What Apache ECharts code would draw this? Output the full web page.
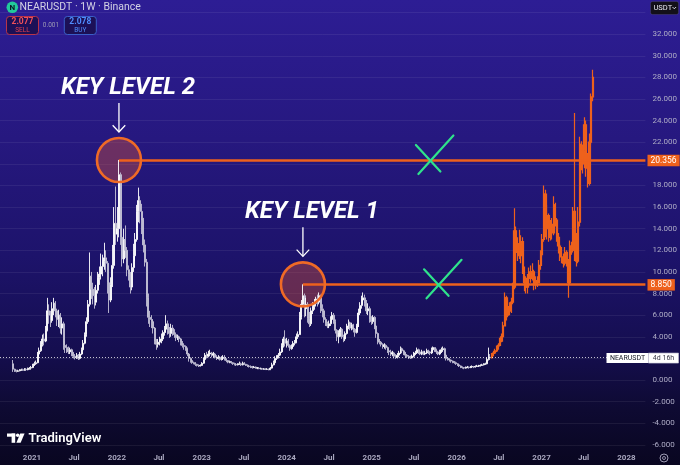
<!DOCTYPE html>
<html>
<head>
<meta charset="utf-8">
<script src="https://cdn.jsdelivr.net/npm/echarts@6.0.0/dist/echarts.min.js"></script>
<style>
html,body{margin:0;padding:0;background:#0a0720;overflow:hidden}
#chart{width:680px;height:465px}
</style>
</head>
<body>
<div id="chart"></div>
<script>
// ================= DATA =================
const firstWeek = '2020-10-12';
const firstOpen = 1.5;

const histClose = [
1.0,0.85,0.8,0.85,0.9,0.95,0.9,1.0,0.95,1.05,1.1,
1.15,1.35,1.5,1.6,2.4,2.7,3.3,3.8,3.6,4.6,
6.4,6.0,5.5,6.6,7.1,6.4,5.6,6.0,4.8,5.2,
3.2,3.0,2.9,2.6,2.8,2.5,2.2,2.1,2.3,2.0,
2.4,2.8,3.4,4.2,5.4,7.0,9.6,8.4,7.8,7.2,
8.3,9.5,9.8,10.5,11.0,11.3,10.8,9.0,7.4,8.8,
10.6,14.5,13.5,14.0,19.0,13.2,11.2,13.0,12.0,10.2,
9.8,8.6,10.4,11.5,13.0,15.6,16.6,15.6,14.8,12.5,
10.9,7.6,5.8,5.6,5.4,4.8,3.6,3.3,3.5,3.7,
3.8,4.4,4.7,5.2,4.6,4.3,4.8,4.5,4.2,3.9,
4.0,3.8,3.5,3.2,3.1,2.9,2.4,2.0,1.8,1.6,
1.55,1.45,1.35,1.3,1.35,1.55,1.9,2.3,2.2,2.4,
2.5,2.3,2.4,2.1,2.0,2.1,1.9,2.0,2.1,1.95,
1.8,1.65,1.7,1.6,1.5,1.45,1.4,1.45,1.5,1.4,
1.55,1.45,1.35,1.3,1.25,1.2,1.15,1.2,1.1,1.1,
1.05,1.05,1.0,1.02,0.98,1.0,0.95,1.1,1.4,1.6,
2.0,2.1,2.3,2.6,3.2,3.8,3.4,3.6,3.2,2.9,
3.1,3.4,3.5,4.0,4.2,5.8,7.0,7.8,6.6,7.0,
5.7,5.2,6.4,6.8,7.1,7.5,7.2,7.8,6.6,6.4,
5.6,5.2,5.0,5.2,5.6,6.0,5.4,4.6,4.0,4.4,
4.7,4.0,3.8,4.3,5.0,5.3,4.8,5.1,4.7,4.4,
5.0,6.2,6.9,7.4,7.6,7.1,6.4,6.6,5.6,5.4,
5.8,5.0,4.3,3.6,3.5,3.3,3.1,3.2,3.0,2.7,
2.6,2.4,2.5,2.2,2.1,2.3,2.5,2.9,2.7,2.5,
2.3,2.2,2.1,2.05,2.2,2.4,2.5,2.8,2.6,2.4,
2.6,2.4,2.5,2.7,2.6,2.5,2.8,3.0,2.8,2.6,
2.4,2.6,2.8,2.9,2.3,2.0,1.95,1.85,1.75,1.65,
1.6,1.5,1.4,1.3,1.2,1.15,1.1,1.15,1.2,1.15,
1.2,1.25,1.2,1.25,1.3,1.3,1.35,1.4,1.45,1.5,
1.9,2.1,2.077
];
const histHigh = [
1.85,1.05,0.95,0.95,1.0,1.05,1.05,1.1,1.1,1.15,1.2,
1.3,1.5,1.7,1.8,2.6,3.0,3.6,4.2,4.3,5.0,
7.6,7.0,6.4,7.2,7.6,7.3,6.6,6.5,6.2,5.8,
5.4,3.6,3.3,3.1,3.0,2.9,2.6,2.4,2.5,2.4,
2.6,3.0,3.7,4.4,5.8,7.4,11.8,10.0,9.0,8.6,
8.8,10.0,10.5,11.7,11.6,12.7,12.0,11.0,9.2,9.5,
12.5,16.0,17.9,16.0,20.36,19.2,14.2,14.0,14.3,12.3,
10.6,10.0,10.8,12.6,13.6,16.2,17.8,17.0,16.3,15.0,
13.0,11.2,8.0,6.4,6.0,5.6,4.9,3.8,3.8,4.0,
4.3,4.6,5.0,6.0,5.5,4.9,5.2,5.1,4.7,4.4,
4.2,4.1,3.9,3.6,3.4,3.2,3.0,2.5,2.1,1.9,
1.7,1.65,1.5,1.45,1.45,1.65,2.1,2.5,2.6,2.7,
2.8,2.6,2.6,2.5,2.3,2.3,2.2,2.2,2.3,2.3,
2.0,1.85,1.8,1.75,1.65,1.6,1.55,1.55,1.7,1.6,
1.7,1.65,1.5,1.45,1.4,1.35,1.3,1.3,1.25,1.2,
1.2,1.15,1.12,1.1,1.08,1.1,1.05,1.2,1.6,1.8,
2.2,2.3,2.5,2.9,3.4,4.0,4.6,3.9,3.8,3.3,
3.3,3.6,3.7,4.3,4.5,6.3,7.4,8.85,8.0,7.6,
7.2,6.3,6.7,7.2,7.5,7.7,7.9,8.1,7.9,7.0,
6.6,5.8,5.4,5.5,5.9,6.3,6.2,5.6,4.7,4.6,
4.9,4.8,4.2,4.5,5.2,5.6,5.4,5.3,5.2,4.8,
5.2,6.6,7.2,7.8,8.1,7.9,7.4,7.1,6.8,5.9,
6.0,5.9,5.1,4.4,3.8,3.6,3.4,3.4,3.3,3.1,
2.9,2.8,2.7,2.6,2.4,2.5,2.7,3.1,3.0,2.8,
2.6,2.4,2.3,2.25,2.35,2.6,2.7,3.0,2.9,2.7,
2.8,2.7,2.7,2.9,2.8,2.7,3.0,3.1,3.0,2.9,
2.7,2.8,3.0,3.1,3.0,2.4,2.1,2.0,1.9,1.8,
1.75,1.7,1.55,1.45,1.35,1.25,1.2,1.25,1.3,1.25,
1.3,1.35,1.3,1.35,1.4,1.4,1.45,1.5,1.55,1.6,
2.1,3.0,2.4
];
const histLow = [
0.75,0.75,0.7,0.75,0.8,0.85,0.85,0.85,0.85,0.9,0.95,
0.95,1.1,1.3,1.4,1.55,2.2,2.6,3.1,3.2,3.5,
4.5,5.2,4.9,5.3,6.0,5.8,5.0,4.9,4.3,4.2,
2.8,2.5,2.5,2.4,2.4,2.2,2.0,1.9,1.95,1.85,
1.9,2.3,2.7,3.3,4.0,5.2,6.8,7.5,7.0,6.6,
6.9,8.0,8.8,9.3,9.6,10.2,10.0,8.0,6.2,7.2,
8.6,10.3,12.5,12.8,13.2,12.5,10.5,10.8,11.3,9.6,
9.2,8.0,8.3,10.0,11.0,12.8,14.6,14.5,13.5,11.8,
10.5,6.8,5.2,4.9,4.8,4.3,3.3,2.8,3.0,3.2,
3.4,3.6,4.1,4.4,4.2,3.9,4.0,4.1,3.9,3.6,
3.7,3.5,3.2,3.0,2.8,2.7,2.2,1.7,1.6,1.5,
1.45,1.3,1.25,1.2,1.25,1.3,1.5,1.85,2.0,2.1,
2.2,2.1,2.1,2.0,1.85,1.9,1.8,1.8,1.85,1.8,
1.65,1.55,1.55,1.5,1.4,1.35,1.3,1.35,1.4,1.3,
1.35,1.4,1.3,1.2,1.15,1.1,1.05,1.1,1.05,1.0,
1.0,0.98,0.95,0.95,0.92,0.92,0.9,0.92,1.05,1.35,
1.55,1.85,2.0,2.2,2.5,3.0,3.1,3.0,3.0,2.7,
2.8,3.0,3.2,3.4,3.8,4.2,5.6,6.8,5.8,5.9,
5.3,4.9,5.0,6.1,6.5,6.8,6.8,7.0,6.2,5.8,
5.3,5.0,4.8,4.8,5.0,5.4,5.2,4.3,3.6,3.4,
4.0,3.8,3.5,3.6,4.2,4.7,4.6,4.6,4.4,4.0,
4.3,4.9,6.0,6.6,7.0,6.8,6.1,6.0,5.3,5.1,
5.2,4.7,3.9,3.3,3.3,3.1,2.9,2.9,2.8,2.5,
2.3,2.2,2.2,2.0,1.95,2.0,2.1,2.4,2.5,2.3,
2.1,2.05,1.95,1.95,2.0,2.1,2.3,2.4,2.4,2.3,
2.3,2.3,2.3,2.4,2.4,2.3,2.4,2.7,2.6,2.4,
2.3,2.3,2.5,2.6,2.0,1.8,1.8,1.7,1.6,1.55,
1.5,1.4,1.3,1.2,1.1,1.05,1.0,1.05,1.1,1.05,
1.1,1.15,1.1,1.15,1.2,1.2,1.25,1.3,1.35,1.4,
1.45,1.8,1.9
];

const projClose = [
2.3,2.5,2.7,2.9,3.2,3.6,4.0,5.0,7.6,6.0,
6.8,6.4,7.2,8.6,13.8,11.8,12.6,11.5,12.8,10.2,
9.0,8.6,9.4,10.0,9.4,10.0,8.8,9.2,9.0,10.6,
11.6,13.0,17.2,14.0,15.2,13.2,14.4,13.6,16.2,14.8,
13.2,12.4,11.4,11.2,10.8,11.8,11.0,9.0,12.4,12.0,
15.6,12.0,11.0,14.6,21.8,20.0,21.2,23.6,19.6,18.2,
22.0,26.2,28.0
];
const projHigh = [
2.5,2.7,2.9,3.2,3.4,3.9,4.3,5.4,8.1,7.8,
7.4,7.2,7.6,9.0,15.9,14.2,13.2,13.9,13.4,13.2,
10.5,9.6,9.8,10.4,10.6,10.8,10.2,9.6,9.6,11.1,
12.0,13.5,18.0,17.6,16.2,15.4,14.8,15.0,17.0,16.4,
15.0,13.6,12.6,12.3,11.7,12.3,12.0,11.2,12.9,12.8,
16.0,24.7,13.6,16.0,22.5,22.1,21.8,24.3,24.0,21.0,
22.8,26.5,28.7
];
const projLow = [
2.0,2.2,2.4,2.6,2.8,3.1,3.5,4.0,5.0,5.5,
5.8,6.0,6.2,7.0,8.4,11.0,11.0,11.2,10.8,9.8,
8.2,8.0,8.0,8.6,9.0,9.2,8.3,8.4,8.6,9.0,
10.2,11.4,12.8,13.2,13.0,12.8,12.9,13.0,13.4,14.2,
12.8,11.7,11.0,10.8,10.4,10.6,10.5,7.6,8.8,11.6,
11.8,11.0,10.5,10.8,14.2,19.4,19.1,19.6,18.8,17.8,
18.0,21.8,25.8
];

const lastPrice = 2.077;
const xLabelDates = ['2021-01-01','2021-07-01','2022-01-01','2022-07-01','2023-01-01','2023-07-01',
  '2024-01-01','2024-07-01','2025-01-01','2025-07-01','2026-01-01','2026-07-01','2027-01-01','2027-07-01','2028-01-01'];
const yMin = -6, yMax = 34, yStep = 2;
const keyLevels = [
  {text:'KEY LEVEL 2', week:65, price:20.356, tag:'20.356'},
  {text:'KEY LEVEL 1', week:178, price:8.850, tag:'8.850'}
];
const crossMarks = [
  {date:'2025-09-08', price:20.356},
  {date:'2025-10-13', price:8.850}
];
const header = {title:'NEARUSDT · 1W · Binance', sell:'2.077', spread:'0.001', buy:'2.078', currency:'USDT'};
const priceTag = {name:'NEARUSDT', countdown:'4d 16h'};

// ================= BUILD =================
const DAY = 86400000;
const toTime = d => Date.parse(d + 'T00:00:00Z');
const t0 = toTime(firstWeek);
const weekTime = i => t0 + i * 7 * DAY;

const histData = [], projData = [];
let prev = firstOpen;
histClose.forEach((c, i) => {
  const o = prev;
  histData.push([weekTime(i), o, c, Math.min(histLow[i], o, c), Math.max(histHigh[i], o, c)]);
  prev = c;
});
projClose.forEach((c, j) => {
  const o = prev;
  const i = histClose.length + j;
  projData.push([weekTime(i), o, c, Math.min(projLow[j], o, c), Math.max(projHigh[j], o, c)]);
  prev = c;
});

// layout of the time scale: 2021 label at x=32, 2028 at x=627, plot 646px wide
const T2021 = toTime('2021-01-01');
const T2028 = toTime('2028-01-01');
const pxPerMs = (627 - 32) / (T2028 - T2021);
const plotW = 646;
const xMin = T2021 - 32 / pxPerMs;
const xMax = T2021 + (plotW - 32) / pxPerMs;
const pxPerUnit = 10.808;
const zeroY = 380;
const gridTop = zeroY - yMax * pxPerUnit;
const gridBottom = 465 - (zeroY - yMin * pxPerUnit);

const ORANGE = '#ee611c';
const FONT = 'Roboto, "Noto Sans", sans-serif';

const chart = echarts.init(document.getElementById('chart'), null, {renderer: 'canvas', width: 680, height: 465});

chart.setOption({
  animation: false,
  backgroundColor: {
    type: 'linear', x: 0, y: 0, x2: 0, y2: 1,
    colorStops: [
      {offset: 0, color: '#2d1d94'},
      {offset: 0.3, color: '#26187f'},
      {offset: 0.55, color: '#1d136b'},
      {offset: 0.75, color: '#150e50'},
      {offset: 0.88, color: '#0e0a32'},
      {offset: 1, color: '#090620'}
    ]
  },
  grid: {left: 0, right: 680 - plotW, top: gridTop, bottom: gridBottom, containLabel: false},
  xAxis: {
    type: 'value', min: xMin, max: xMax, scale: true,
    axisLine: {show: false}, axisTick: {show: false}, splitLine: {show: false},
    axisLabel: {
      customValues: xLabelDates.map(toTime),
      formatter: v => { const d = new Date(v); return d.getUTCMonth() === 0 ? String(d.getUTCFullYear()) : 'Jul'; },
      color: '#a9a7bf', fontSize: 8, fontWeight: 'bold', fontFamily: FONT, margin: 9, hideOverlap: false
    }
  },
  yAxis: {
    type: 'value', position: 'right', min: yMin, max: yMax, interval: yStep,
    axisLine: {show: false}, axisTick: {show: false},
    splitLine: {lineStyle: {color: 'rgba(255,255,255,0.065)', width: 1}},
    axisLabel: {
      formatter: v => v.toFixed(3), color: '#aeacc6', fontSize: 8, fontFamily: FONT, margin: 7,
      showMaxLabel: false
    }
  },
  series: [
    {
      type: 'candlestick', name: 'hist', data: histData,
      encode: {x: 0, y: [1, 2, 3, 4]},
      barWidth: 1.5,
      itemStyle: {color: '#ffffff', color0: '#c4c2d6', borderColor: '#ffffff', borderColor0: '#c4c2d6', borderWidth: 0.9},
      markLine: {
        silent: true, symbol: 'none', animation: false,
        label: {show: false},
        lineStyle: {type: [1, 2], color: 'rgba(255,255,255,0.75)', width: 1},
        data: [{yAxis: lastPrice}]
      }
    },
    {
      type: 'candlestick', name: 'proj', data: projData,
      encode: {x: 0, y: [1, 2, 3, 4]},
      barWidth: 1.7,
      itemStyle: {color: ORANGE, color0: ORANGE, borderColor: ORANGE, borderColor0: ORANGE, borderWidth: 1.2},
      markLine: {
        silent: true, symbol: 'none', animation: false,
        label: {show: false},
        lineStyle: {type: 'solid', color: ORANGE, width: 2.6},
        data: keyLevels.map(k => [{coord: [weekTime(k.week), k.price]}, {coord: [xMax, k.price]}])
      }
    }
  ]
});

// ================= ANNOTATIONS =================
const px = (t, p) => chart.convertToPixel({gridIndex: 0}, [t, p]);
const g = [];

// header
g.push({type: 'circle', shape: {cx: 12.3, cy: 7.3, r: 5.8}, style: {fill: '#22c99b'}, z: 100});
g.push({type: 'text', style: {x: 12.3, y: 7.6, text: 'N', fill: '#0b1a24', font: 'bold 8px ' + FONT, align: 'center', verticalAlign: 'middle'}, z: 101});
g.push({type: 'text', style: {x: 19.5, y: 7.5, text: header.title, fill: '#d3d2e4', font: '10.5px ' + FONT, verticalAlign: 'middle'}, z: 100});
g.push({type: 'rect', shape: {x: 6.5, y: 16.5, width: 32, height: 18, r: 3}, style: {fill: 'rgba(16,8,40,0.55)', stroke: '#b8344a', lineWidth: 1}, z: 100});
g.push({type: 'text', style: {x: 22.5, y: 22.3, text: header.sell, fill: '#f0505a', font: 'bold 8.5px ' + FONT, align: 'center', verticalAlign: 'middle'}, z: 101});
g.push({type: 'text', style: {x: 22.5, y: 30, text: 'SELL', fill: '#e0404e', font: '6.5px ' + FONT, align: 'center', verticalAlign: 'middle'}, z: 101});
g.push({type: 'text', style: {x: 51, y: 25.5, text: header.spread, fill: '#9c9ab4', font: '6.5px ' + FONT, align: 'center', verticalAlign: 'middle'}, z: 101});
g.push({type: 'rect', shape: {x: 64.3, y: 16.5, width: 32, height: 18, r: 3}, style: {fill: 'rgba(16,8,40,0.55)', stroke: '#3a5fc8', lineWidth: 1}, z: 100});
g.push({type: 'text', style: {x: 80.3, y: 22.3, text: header.buy, fill: '#4f8dff', font: 'bold 8.5px ' + FONT, align: 'center', verticalAlign: 'middle'}, z: 101});
g.push({type: 'text', style: {x: 80.3, y: 30, text: 'BUY', fill: '#4f8dff', font: '6.5px ' + FONT, align: 'center', verticalAlign: 'middle'}, z: 101});

// currency button
g.push({type: 'rect', shape: {x: 650.5, y: 1.5, width: 28, height: 13, r: 2}, style: {fill: '#131019', stroke: 'rgba(255,255,255,0.12)', lineWidth: 0.8}, z: 100});
g.push({type: 'text', style: {x: 653.5, y: 8.2, text: header.currency, fill: '#e8e8f0', font: '7.5px ' + FONT, verticalAlign: 'middle'}, z: 101});
g.push({type: 'polyline', shape: {points: [[672.5, 7], [674.3, 8.8], [676.1, 7]]}, style: {stroke: '#e8e8f0', lineWidth: 0.9, fill: null}, z: 101});

// key levels: circles, arrows, captions, axis tags
keyLevels.forEach(k => {
  const [cx, cy] = px(weekTime(k.week), k.price);
  g.push({type: 'circle', shape: {cx, cy, r: 22}, style: {fill: 'rgba(205,82,62,0.42)'}, z: 1});
  g.push({type: 'circle', shape: {cx, cy, r: 22}, style: {fill: null, stroke: '#ef6a26', lineWidth: 2.6}, z: 60});
  g.push({type: 'line', shape: {x1: cx, y1: cy - 57, x2: cx, y2: cy - 28}, style: {stroke: '#ffffff', lineWidth: 1.3}, z: 60});
  g.push({type: 'polyline', shape: {points: [[cx - 6.3, cy - 34.7], [cx, cy - 28], [cx + 6.3, cy - 34.7]]}, style: {stroke: '#ffffff', lineWidth: 1.3, fill: null}, z: 60});
  g.push({type: 'text', style: {x: cx - 58, y: cy - 72, text: k.text, fill: '#ffffff', font: 'italic bold 24px ' + FONT, verticalAlign: 'middle'}, z: 60});
  g.push({type: 'text', style: {x: plotW + 1.5, y: cy + 0.5, text: k.tag, fill: '#ffffff', font: '8.5px ' + FONT,
    verticalAlign: 'middle', backgroundColor: ORANGE, padding: [1.5, 3, 1, 3]}, z: 120});
});

// green crosses on the key level lines
const armA = [[-14, -15], [10.5, 11.5]];
const armB = [[-11.5, 14], [23.5, -24.5]];
crossMarks.forEach(c => {
  const [cx, cy] = px(toTime(c.date), c.price);
  [armA, armB].forEach(a => {
    g.push({type: 'line', shape: {x1: cx + a[0][0], y1: cy + a[0][1], x2: cx + a[1][0], y2: cy + a[1][1]},
      style: {stroke: '#2fe38b', lineWidth: 2.2, lineCap: 'round'}, z: 70});
  });
});

// last price tag
const ly = px(xMax, lastPrice)[1];
g.push({type: 'rect', shape: {x: 606.5, y: ly - 4.5, width: 42, height: 10}, style: {fill: '#ffffff'}, z: 120});
g.push({type: 'text', style: {x: 627.5, y: ly + 0.6, text: priceTag.name, fill: '#131722', font: '7px ' + FONT, align: 'center', verticalAlign: 'middle'}, z: 121});
g.push({type: 'rect', shape: {x: 648.5, y: ly - 4.5, width: 30, height: 10}, style: {fill: '#ffffff', stroke: '#c9c9d6', lineWidth: 0.6}, z: 120});
g.push({type: 'text', style: {x: 663.5, y: ly + 0.6, text: priceTag.countdown, fill: '#3a3a48', font: '7px ' + FONT, align: 'center', verticalAlign: 'middle'}, z: 121});

// TradingView logo
g.push({type: 'rect', shape: {x: 7, y: 433.5, width: 8.2, height: 3.2}, style: {fill: '#ffffff'}, z: 100});
g.push({type: 'rect', shape: {x: 11.6, y: 433.5, width: 3.6, height: 9.3}, style: {fill: '#ffffff'}, z: 100});
g.push({type: 'circle', shape: {cx: 17.7, cy: 435.3, r: 1.8}, style: {fill: '#ffffff'}, z: 100});
g.push({type: 'polygon', shape: {points: [[20.2, 433.5], [24.6, 433.5], [20.6, 442.8], [16.4, 442.8]]}, style: {fill: '#ffffff'}, z: 100});
g.push({type: 'text', style: {x: 28.5, y: 438.3, text: 'TradingView', fill: '#ffffff', font: '600 13px ' + FONT, verticalAlign: 'middle'}, z: 100});

// settings icon at the axis corner
g.push({type: 'circle', shape: {cx: 664, cy: 458, r: 4}, style: {fill: null, stroke: '#9e9cb4', lineWidth: 1}, z: 100});
g.push({type: 'circle', shape: {cx: 664, cy: 458, r: 1.5}, style: {fill: null, stroke: '#9e9cb4', lineWidth: 0.9}, z: 100});

chart.setOption({graphic: {elements: g}});
</script>
</body>
</html>
